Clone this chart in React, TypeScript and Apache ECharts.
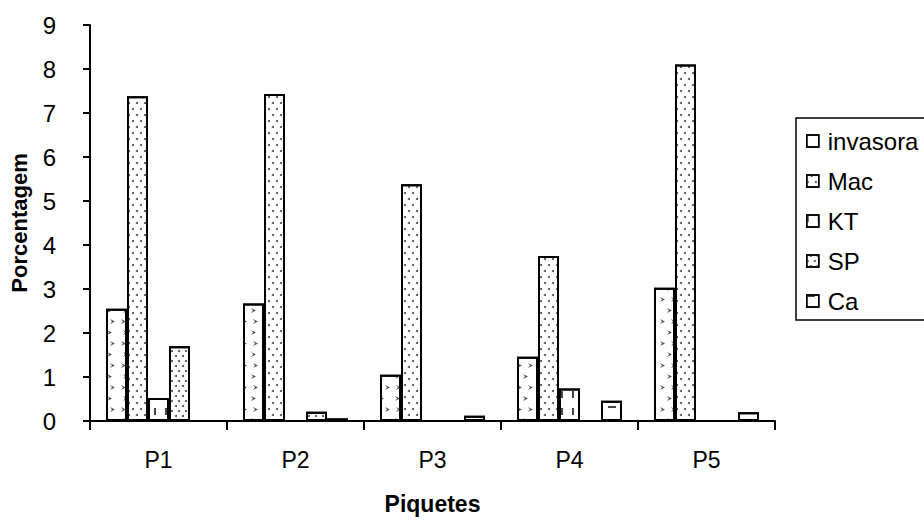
import React, { useEffect, useRef } from "react";
import * as echarts from "echarts";

const categories = ["P1", "P2", "P3", "P4", "P5"];
const seriesNames = ["invasora", "Mac", "KT", "SP", "Ca"];
const invasora = [2.55, 2.67, 1.05, 1.46, 3.03];
const mac = [7.38, 7.43, 5.38, 3.75, 8.1];
const kt = [0.52, 0, 0, 0.74, 0];
const sp = [1.7, 0.21, 0, 0, 0];
const ca = [0, 0.06, 0.12, 0.46, 0.2];
const yTicks = [0, 1, 2, 3, 4, 5, 6, 7, 8, 9];

const FONT = "'Liberation Sans', Arial, sans-serif";

const decals: any[] = [
  {
    symbol: "path://M0,0 L10,5 L0,10 L4,5 Z",
    symbolSize: 1,
    color: "#555",
    dashArrayX: [[5, 6], [0, 11, 5, 0]],
    dashArrayY: [5, 6],
  },
  {
    symbol: "circle",
    symbolSize: 1,
    color: "#444",
    dashArrayX: [[2, 6], [0, 4, 2, 2]],
    dashArrayY: [2, 4],
  },
  {
    symbol: "rect",
    symbolSize: 1,
    color: "#444",
    dashArrayX: [2, 9],
    dashArrayY: [7, 10],
  },
  {
    symbol: "circle",
    symbolSize: 1,
    color: "#444",
    dashArrayX: [[2, 5], [0, 3, 2, 2]],
    dashArrayY: [2, 3],
  },
  {
    symbol: "rect",
    symbolSize: 1,
    color: "#444",
    dashArrayX: [8, 8],
    dashArrayY: [2, 12],
  },
];

export default function App() {
  const ref = useRef<HTMLDivElement>(null);
  useEffect(() => {
    if (!ref.current) return;
    const chart = echarts.init(ref.current, null, { renderer: "svg" });
    const values = [invasora, mac, kt, sp, ca];
    chart.setOption({
      animation: false,
      backgroundColor: "#fff",
      textStyle: { fontFamily: FONT, color: "#000" },
      grid: { left: 83, right: 149, top: 25, bottom: 95, containLabel: false },
      legend: {
        orient: "vertical",
        left: 796,
        top: 118,
        data: seriesNames.map((n, i) => ({
          name: n,
          itemStyle: { color: "#fff", borderColor: "#000", borderWidth: 1.5, decal: decals[i] },
        })),
        icon: "rect",
        itemWidth: 12,
        itemHeight: 12,
        itemGap: 16,
        padding: [11, 60, 7, 10],
        borderColor: "#000",
        borderWidth: 1.5,
        textStyle: { fontFamily: FONT, fontSize: 24, color: "#000", padding: [0, 0, 0, 4] },
      },
      xAxis: {
        type: "category",
        data: categories,
        name: "Piquetes",
        nameLocation: "middle",
        nameGap: 71,
        nameTextStyle: { fontFamily: FONT, fontSize: 23, fontWeight: "bold", color: "#000" },
        axisLine: { lineStyle: { color: "#000", width: 2 } },
        axisTick: { show: true, length: 9, lineStyle: { color: "#000", width: 2 } },
        axisLabel: { fontFamily: FONT, fontSize: 23, color: "#000", margin: 27 },
      },
      yAxis: {
        type: "value",
        min: 0,
        max: 9,
        interval: 1,
        name: "Porcentagem",
        nameLocation: "middle",
        nameGap: 60,
        nameTextStyle: { fontFamily: FONT, fontSize: 22, fontWeight: "bold", color: "#000" },
        axisLine: { show: true, lineStyle: { color: "#000", width: 2 } },
        axisTick: { show: true, length: 7, lineStyle: { color: "#000", width: 2 } },
        axisLabel: {
          fontFamily: FONT,
          fontSize: 24,
          color: "#000",
          margin: 34,
          formatter: (v: number) => (yTicks.includes(v) ? String(v) : ""),
        },
        splitLine: { show: false },
      },
      series: seriesNames.map((name, i) => ({
        name,
        type: "bar",
        data: values[i],
        barWidth: 21,
        barGap: "0%",
        itemStyle: {
          color: "#fff",
          borderColor: "#000",
          borderWidth: 2,
          decal: decals[i],
        },
      })),
    });
    return () => chart.dispose();
  }, []);
  return <div ref={ref} style={{ width: 924, height: 520, position: "absolute", left: 0, top: 0 }} />;
}
